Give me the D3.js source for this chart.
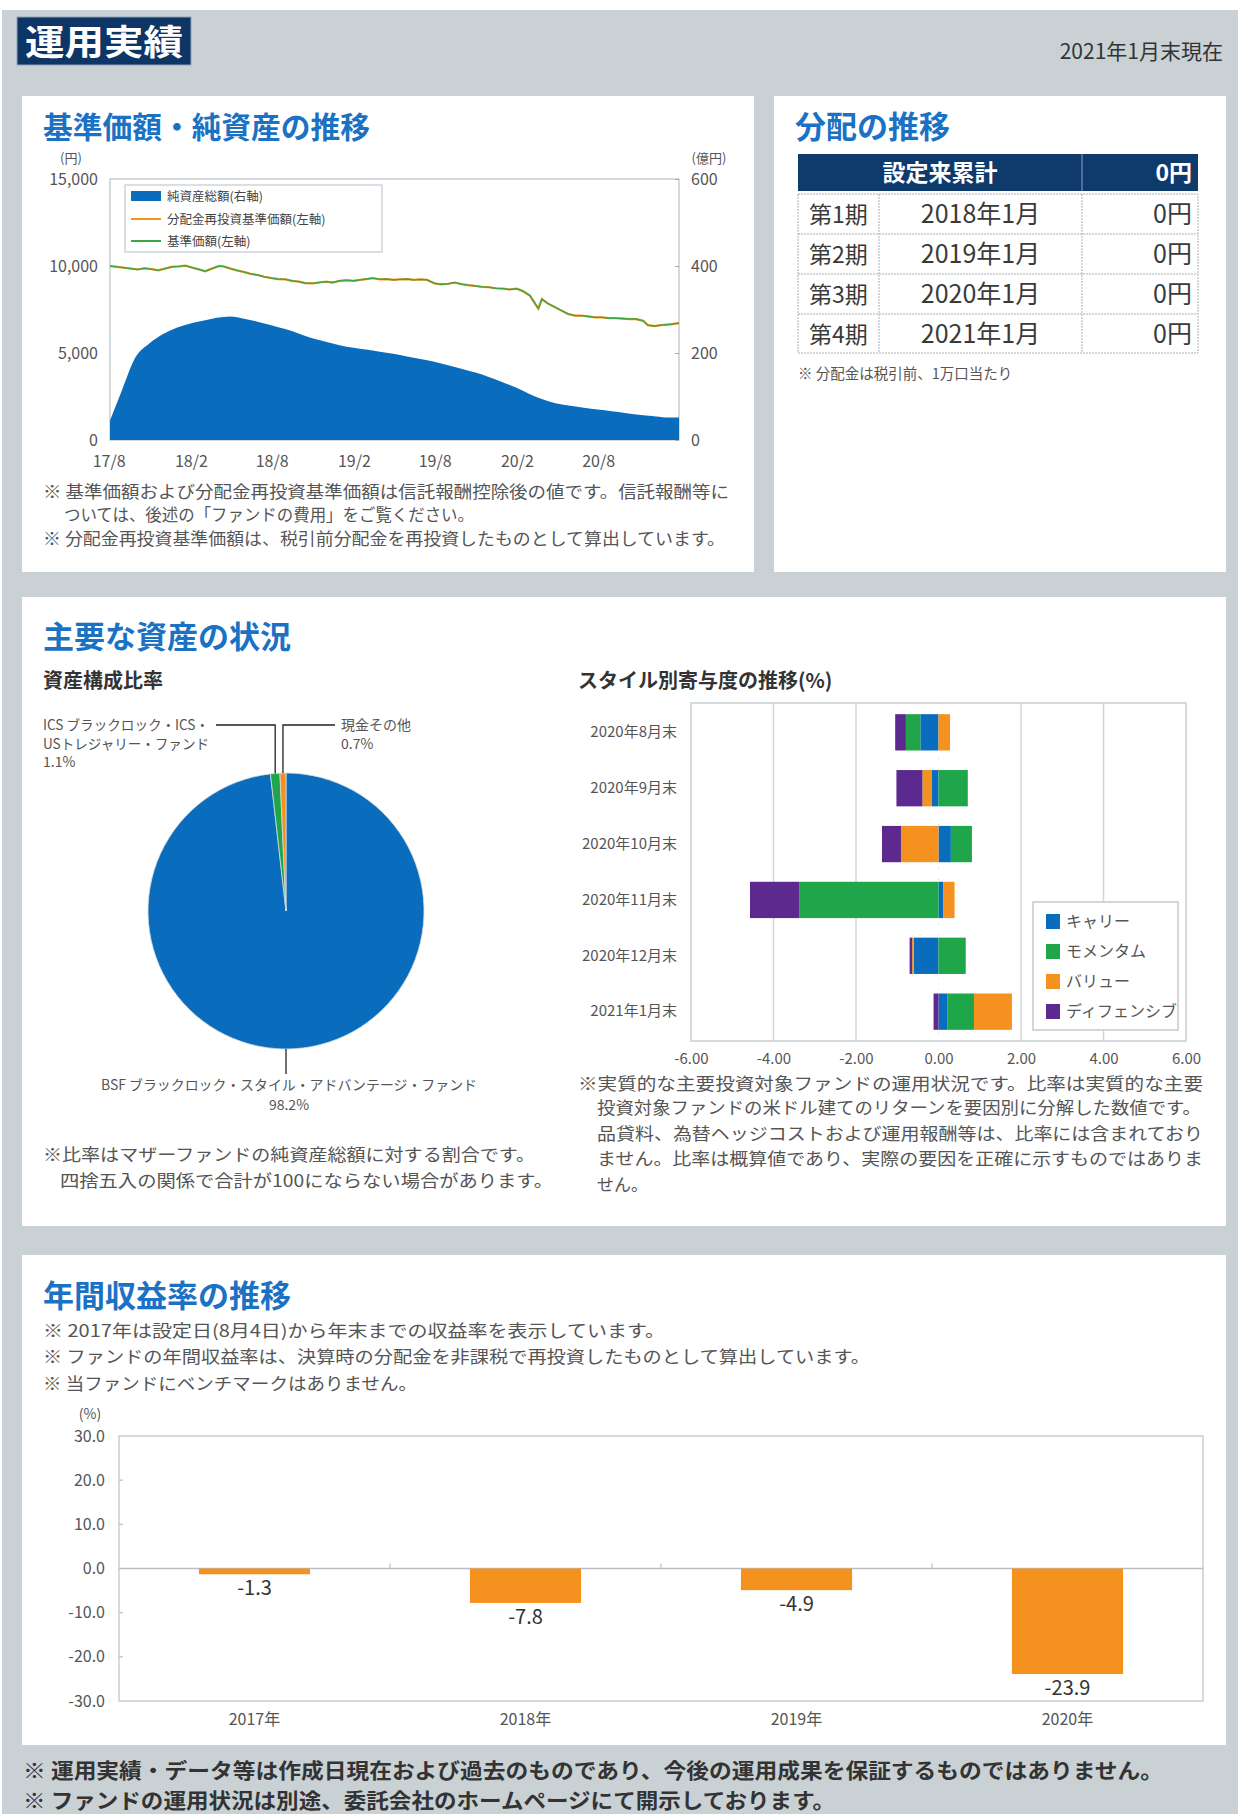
<!DOCTYPE html>
<html>
<head>
<meta charset="utf-8">
<script src="https://cdn.jsdelivr.net/npm/d3@7"></script>
<style>
  body { margin: 0; background: #fff; }
  text { font-family: "Noto Sans CJK JP", "Noto Sans", sans-serif; }
</style>
</head>
<body>
<svg id="chart"></svg>
<script>
// ---- データ ----
// 純資産総額（億円, 月末）
const navDates = ['2017-08-04','2017-08-31','2017-09-30','2017-10-31','2017-11-30','2017-12-31',
  '2018-01-31','2018-02-28','2018-03-31','2018-04-30','2018-05-31','2018-06-30','2018-07-31',
  '2018-08-31','2018-09-30','2018-10-31','2018-11-30','2018-12-31','2019-01-31','2019-02-28',
  '2019-03-31','2019-04-30','2019-05-31','2019-06-30','2019-07-31','2019-08-31','2019-09-30',
  '2019-10-31','2019-11-30','2019-12-31','2020-01-31','2020-02-29','2020-03-31','2020-04-30',
  '2020-05-31','2020-06-30','2020-07-31','2020-08-31','2020-09-30','2020-10-31','2020-11-30',
  '2020-12-31','2021-01-29'];
const netAssets = [45,115,190,222,243,258,268,274,281,284,279,272,264,255,245,234,226,218,212,208,
  203,198,192,186,180,172,164,155,145,133,120,106,93,84,79,74,70,66,62,58,55,52,52];

// 基準価額（円）
const priceDates = ['2017-08-04','2017-08-20','2017-09-05','2017-09-20','2017-10-05','2017-10-20',
  '2017-11-05','2017-11-20','2017-12-05','2017-12-20','2018-01-05','2018-01-20','2018-02-05',
  '2018-02-20','2018-03-05','2018-03-20','2018-04-05','2018-04-15','2018-05-01','2018-05-15',
  '2018-06-01','2018-06-15','2018-07-01','2018-07-15','2018-08-01','2018-08-15','2018-09-01',
  '2018-09-15','2018-10-01','2018-10-15','2018-11-01','2018-11-15','2018-12-01','2018-12-15',
  '2019-01-01','2019-01-15','2019-02-01','2019-02-15','2019-03-01','2019-03-15','2019-04-01',
  '2019-04-15','2019-05-01','2019-05-15','2019-06-01','2019-06-15','2019-07-01','2019-07-15',
  '2019-08-01','2019-08-15','2019-09-01','2019-09-15','2019-10-01','2019-10-15','2019-11-01',
  '2019-11-15','2019-12-01','2019-12-15','2020-01-01','2020-01-15','2020-02-01','2020-02-15',
  '2020-03-01','2020-03-10','2020-03-20','2020-03-28','2020-04-10','2020-04-25','2020-05-10',
  '2020-05-25','2020-06-10','2020-06-25','2020-07-10','2020-07-25','2020-08-10','2020-08-25',
  '2020-09-10','2020-09-25','2020-10-10','2020-10-25','2020-11-10','2020-11-20','2020-12-05',
  '2020-12-20','2021-01-10','2021-01-29'];
const basePrice = [10000,9950,9900,9850,9800,9870,9820,9750,9850,9950,9980,10020,9900,
  9800,9700,9850,10000,9980,9850,9750,9650,9550,9480,9380,9300,9250,9230,
  9150,9100,9020,9000,9050,9100,9050,9150,9180,9150,9200,9250,9300,9230,
  9250,9200,9230,9250,9200,9230,9200,9000,8950,8980,9050,8950,8900,8850,
  8800,8780,8720,8700,8650,8700,8550,8300,7950,7550,8100,7850,7650,7450,
  7250,7150,7150,7100,7050,7050,7000,7000,6980,6950,6950,6850,6600,6550,
  6600,6650,6720];
// 分配実績がないため分配金再投資基準価額は基準価額と同じ
const reinvestPrice = basePrice;

const xTickDates = ['2017-08-01','2018-02-01','2018-08-01','2019-02-01','2019-08-01','2020-02-01','2020-08-01'];
const xTickLabels = ['17/8','18/2','18/8','19/2','19/8','20/2','20/8'];
const leftTicks = [0, 5000, 10000, 15000];
const rightTicks = [0, 200, 400, 600];

// 分配の推移
const distPeriods = ['第1期','第2期','第3期','第4期'];
const distMonths = ['2018年1月','2019年1月','2020年1月','2021年1月'];
const distAmounts = ['0円','0円','0円','0円'];
const distTotal = '0円';

// 資産構成比率
const pieNames = ['BSF ブラックロック・スタイル・アドバンテージ・ファンド','ICS ブラックロック・ICS・USトレジャリー・ファンド','現金その他'];
const pieValues = [98.2, 1.1, 0.7];

// スタイル別寄与度（%）
const styleMonths = ['2020年8月末','2020年9月末','2020年10月末','2020年11月末','2020年12月末','2021年1月末'];
const styleNames = ['キャリー','モメンタム','バリュー','ディフェンシブ'];
const carry     = [-0.44, -0.17,  0.30,  0.12, -0.60, 0.22];
const momentum  = [-0.35,  0.71,  0.51, -3.37,  0.66, 0.64];
const valueF    = [ 0.28, -0.22, -0.91,  0.27, -0.04, 0.92];
const defensive = [-0.26, -0.63, -0.46, -1.20, -0.06, -0.12];
const styleTicks = [-6, -4, -2, 0, 2, 4, 6];

// 年間収益率
const years = ['2017年','2018年','2019年','2020年'];
const annualReturns = [-1.3, -7.8, -4.9, -23.9];
const returnTicks = [-30, -20, -10, 0, 10, 20, 30];

// ---- 描画 ----
const W = 1238, H = 1814;
const BLUE = '#0a6cbd', GREEN = '#1fa54a', ORANGE = '#f5921f', PURPLE = '#5c2a8e';
const TITLE = '#1b72c4', TXT = '#444', NOTE = '#555', FRAME = '#c6cfd3';
const parse = d3.timeParse('%Y-%m-%d');

const svg = d3.select('#chart').attr('width', W).attr('height', H);

svg.append('rect').attr('width', W).attr('height', H).attr('fill', '#c9d1d5');
svg.append('rect').attr('width', W).attr('height', 10).attr('fill', '#fff');
svg.append('rect').attr('width', 2).attr('height', H).attr('fill', '#fff');

function txt(x, y, s, size, opt) {
  opt = opt || {};
  const t = svg.append('text').attr('x', x).attr('y', y).text(s)
    .attr('font-size', size)
    .attr('fill', opt.fill || TXT)
    .attr('text-anchor', opt.anchor || 'start')
    .attr('font-weight', opt.weight || 400);
  if (opt.len) t.attr('textLength', opt.len).attr('lengthAdjust', 'spacingAndGlyphs');
  return t;
}

// 見出し
svg.append('rect').attr('x', 17).attr('y', 17).attr('width', 174).attr('height', 48)
  .attr('fill', '#0d3566').attr('stroke', '#8fa3b8').attr('stroke-width', 1);
txt(104, 55, '運用実績', 35, {fill: '#fff', anchor: 'middle', weight: 700, len: 158});
txt(1223, 59, '2021年1月末現在', 21, {anchor: 'end', fill: '#333'});

// パネル
[[22, 96, 732, 476], [774, 96, 452, 476], [22, 597, 1204, 629], [22, 1255, 1204, 490]]
  .forEach(p => svg.append('rect').attr('x', p[0]).attr('y', p[1]).attr('width', p[2]).attr('height', p[3]).attr('fill', '#fff'));

// ===== 基準価額・純資産の推移 =====
txt(43, 138, '基準価額・純資産の推移', 30, {fill: TITLE, weight: 700, len: 327});

const px0 = 110, px1 = 679, py0 = 179, py1 = 440;
const x1 = d3.scaleTime().domain([parse('2017-08-04'), parse('2021-01-29')]).range([px0, px1]);
const yL = d3.scaleLinear().domain([0, 15000]).range([py1, py0]);
const yR = d3.scaleLinear().domain([0, 600]).range([py1, py0]);

const navData = navDates.map((d, i) => ({date: parse(d), v: netAssets[i]}));
const priceData = priceDates.map((d, i) => ({date: parse(d), v: basePrice[i], r: reinvestPrice[i]}));

svg.append('rect').attr('x', px0).attr('y', py0).attr('width', px1 - px0).attr('height', py1 - py0)
  .attr('fill', 'none').attr('stroke', FRAME).attr('stroke-width', 1.5);

svg.append('path').datum(navData)
  .attr('fill', BLUE)
  .attr('d', d3.area().x(d => x1(d.date)).y0(yR(0)).y1(d => yR(d.v)).curve(d3.curveMonotoneX));

svg.append('path').datum(priceData)
  .attr('fill', 'none').attr('stroke', ORANGE).attr('stroke-width', 2.2)
  .attr('d', d3.line().x(d => x1(d.date)).y(d => yL(d.r)));
svg.append('path').datum(priceData)
  .attr('fill', 'none').attr('stroke', '#3aa845').attr('stroke-width', 1.4)
  .attr('d', d3.line().x(d => x1(d.date)).y(d => yL(d.v)));

const axL = svg.append('g').attr('transform', `translate(${px0},0)`)
  .call(d3.axisLeft(yL).tickValues(leftTicks).tickFormat(d3.format(',')).tickSize(0).tickPadding(12));
const axR = svg.append('g').attr('transform', `translate(${px1},0)`)
  .call(d3.axisRight(yR).tickValues(rightTicks).tickSize(-4).tickPadding(12));
const axB = svg.append('g').attr('transform', `translate(0,${py1})`)
  .call(d3.axisBottom(x1).tickValues(xTickDates.map(parse)).tickFormat((d, i) => xTickLabels[i]).tickSize(0).tickPadding(16));
[axL, axR, axB].forEach(a => {
  a.select('.domain').remove();
  a.selectAll('line').attr('stroke', '#aaa');
  a.selectAll('text').attr('font-size', 16).attr('fill', '#555')
    .style('font-family', '"Noto Sans CJK JP", sans-serif');
});
txt(71, 163, '(円)', 13, {anchor: 'middle', fill: '#555'});
txt(709, 163, '(億円)', 13, {anchor: 'middle', fill: '#555'});

// 凡例
svg.append('rect').attr('x', 125).attr('y', 185).attr('width', 257).attr('height', 67)
  .attr('fill', '#fff').attr('stroke', '#c3c9d0').attr('stroke-width', 1.2);
svg.append('rect').attr('x', 131).attr('y', 191).attr('width', 30).attr('height', 10).attr('fill', BLUE);
svg.append('line').attr('x1', 131).attr('x2', 161).attr('y1', 219).attr('y2', 219).attr('stroke', ORANGE).attr('stroke-width', 2);
svg.append('line').attr('x1', 131).attr('x2', 161).attr('y1', 241).attr('y2', 241).attr('stroke', '#3aa845').attr('stroke-width', 2);
txt(167, 201, '純資産総額(右軸)', 12.5, {fill: '#444'});
txt(167, 224, '分配金再投資基準価額(左軸)', 12.5, {fill: '#444'});
txt(167, 246, '基準価額(左軸)', 12.5, {fill: '#444'});

txt(43, 498, '※ 基準価額および分配金再投資基準価額は信託報酬控除後の値です。信託報酬等に', 16.5, {fill: NOTE, len: 686});
txt(64, 521, 'ついては、後述の「ファンドの費用」をご覧ください。', 16.5, {fill: NOTE, len: 410});
txt(43, 545, '※ 分配金再投資基準価額は、税引前分配金を再投資したものとして算出しています。', 16.5, {fill: NOTE, len: 682});

// ===== 分配の推移 =====
txt(795, 138, '分配の推移', 31, {fill: TITLE, weight: 700});
const tX = [798, 879, 1082, 1198];
const hdrY0 = 154, hdrY1 = 191;
const rowY = [194, 234, 274, 314, 353];
svg.append('rect').attr('x', tX[0]).attr('y', hdrY0).attr('width', tX[3] - tX[0]).attr('height', hdrY1 - hdrY0).attr('fill', '#0f3a6c');
svg.append('line').attr('x1', tX[2]).attr('x2', tX[2]).attr('y1', hdrY0).attr('y2', hdrY1).attr('stroke', '#8da0b8');
txt((tX[0] + tX[2]) / 2, 181, '設定来累計', 23, {fill: '#fff', anchor: 'middle', weight: 700});
txt(tX[3] - 6, 181, distTotal, 23, {fill: '#fff', anchor: 'end', weight: 700});
const tb = svg.append('g').attr('stroke', '#a9b1b8').attr('stroke-dasharray', '2,1').attr('fill', 'none');
tb.append('rect').attr('x', tX[0]).attr('y', rowY[0]).attr('width', tX[3] - tX[0]).attr('height', rowY[4] - rowY[0]);
rowY.slice(1, 4).forEach(y => tb.append('line').attr('x1', tX[0]).attr('x2', tX[3]).attr('y1', y).attr('y2', y));
[tX[1], tX[2]].forEach(x => tb.append('line').attr('x1', x).attr('x2', x).attr('y1', rowY[0]).attr('y2', rowY[4]));
distPeriods.forEach((p, i) => {
  const cy = (rowY[i] + rowY[i + 1]) / 2 + 9;
  txt((tX[0] + tX[1]) / 2, cy, p, 23, {anchor: 'middle', fill: '#3a3a3a'});
  txt((tX[1] + tX[2]) / 2, cy, distMonths[i], 25, {anchor: 'middle', fill: '#3a3a3a'});
  txt(tX[3] - 6, cy, distAmounts[i], 25, {anchor: 'end', fill: '#3a3a3a'});
});
txt(798, 379, '※ 分配金は税引前、1万口当たり', 14.5, {fill: NOTE});

// ===== 主要な資産の状況 =====
txt(43, 648, '主要な資産の状況', 31, {fill: TITLE, weight: 700});
txt(43, 688, '資産構成比率', 20, {fill: '#333', weight: 700});

const cx = 286, cy = 911, R = 138;
const pieColors = [BLUE, GREEN, ORANGE];
const arcs = d3.pie().sort(null).value(d => d)(pieValues);
const gp = svg.append('g').attr('transform', `translate(${cx},${cy})`);
gp.selectAll('path').data(arcs).join('path')
  .attr('d', d3.arc().innerRadius(0).outerRadius(R))
  .attr('fill', (d, i) => pieColors[i])
  .attr('stroke', '#d5dade').attr('stroke-width', 0.8);

function leader(a, endX) {
  const m = (a.startAngle + a.endAngle) / 2;
  const lx = cx + R * Math.sin(m), ly = cy - R * Math.cos(m);
  svg.append('path').attr('d', `M${lx},${ly}V725H${endX}`)
    .attr('fill', 'none').attr('stroke', '#222').attr('stroke-width', 1.3);
}
leader(arcs[1], 216);
leader(arcs[2], 335);
svg.append('line').attr('x1', cx).attr('x2', cx).attr('y1', cy + R).attr('y2', 1074)
  .attr('stroke', '#222').attr('stroke-width', 1.3);

txt(43, 730, 'ICS ブラックロック・ICS・', 14, {fill: NOTE, len: 166});
txt(43, 749, 'USトレジャリー・ファンド', 14, {fill: NOTE, len: 166});
txt(43, 767, pieValues[1].toFixed(1) + '%', 14, {fill: NOTE});
txt(341, 730, pieNames[2], 14, {fill: NOTE});
txt(341, 749, pieValues[2].toFixed(1) + '%', 14, {fill: NOTE});
txt(289, 1090, pieNames[0], 14, {fill: NOTE, anchor: 'middle', len: 376});
txt(289, 1110, pieValues[0].toFixed(1) + '%', 14, {fill: NOTE, anchor: 'middle'});

txt(43, 1161, '※比率はマザーファンドの純資産総額に対する割合です。', 17, {fill: NOTE, len: 492});
txt(60, 1187, '四捨五入の関係で合計が100にならない場合があります。', 17, {fill: NOTE, len: 493});

// スタイル別寄与度
txt(578, 688, 'スタイル別寄与度の推移(%)', 20, {fill: '#333', weight: 700});
const bx0 = 691, bx1 = 1186, by0 = 703, by1 = 1041;
const xs = d3.scaleLinear().domain([-6, 6]).range([bx0, bx1]);
const ys = d3.scaleBand().domain(styleMonths).range([by0, by1]).paddingInner(0.35).paddingOuter(0.2);

styleTicks.filter(t => t !== -6 && t !== 6 && t !== 0).forEach(t =>
  svg.append('line').attr('x1', xs(t)).attr('x2', xs(t)).attr('y1', by0).attr('y2', by1)
    .attr('stroke', '#cfd6da').attr('stroke-width', 1.5));
svg.append('line').attr('x1', xs(0)).attr('x2', xs(0)).attr('y1', by0).attr('y2', by1)
  .attr('stroke', '#cfd6da').attr('stroke-dasharray', '1,10');
svg.append('rect').attr('x', bx0).attr('y', by0).attr('width', bx1 - bx0).attr('height', by1 - by0)
  .attr('fill', 'none').attr('stroke', FRAME).attr('stroke-width', 1.5);

const styleRows = styleMonths.map((m, i) => ({month: m, carry: carry[i], momentum: momentum[i], value: valueF[i], defensive: defensive[i]}));
const styleKeys = ['carry', 'momentum', 'value', 'defensive'];
const styleColors = [BLUE, GREEN, ORANGE, PURPLE];
const series = d3.stack().keys(styleKeys).offset(d3.stackOffsetDiverging)(styleRows);
svg.append('g').selectAll('g').data(series).join('g')
  .attr('fill', (d, i) => styleColors[i])
  .selectAll('rect').data(d => d).join('rect')
  .attr('x', d => xs(Math.min(d[0], d[1])))
  .attr('width', d => Math.abs(xs(d[1]) - xs(d[0])))
  .attr('y', d => ys(d.data.month))
  .attr('height', ys.bandwidth());

const axS = svg.append('g').attr('transform', `translate(0,${by1})`)
  .call(d3.axisBottom(xs).tickValues(styleTicks).tickFormat(d3.format('.2f')).tickSize(0).tickPadding(12));
const axM = svg.append('g').attr('transform', `translate(${bx0},0)`)
  .call(d3.axisLeft(ys).tickSize(0).tickPadding(14));
[axS, axM].forEach(a => {
  a.select('.domain').remove();
  a.selectAll('text').attr('font-size', 15).attr('fill', '#555')
    .style('font-family', '"Noto Sans CJK JP", sans-serif');
});
axS.selectAll('text').text(d => d3.format('.2f')(d).replace('−', '-'));

svg.append('rect').attr('x', 1033).attr('y', 902).attr('width', 145).attr('height', 128)
  .attr('fill', '#fff').attr('stroke', '#c3c9d0').attr('stroke-width', 1.5);
styleNames.forEach((n, i) => {
  const ly = 921 + i * 30;
  svg.append('rect').attr('x', 1046).attr('y', ly - 7).attr('width', 14).attr('height', 15).attr('fill', styleColors[i]);
  txt(1066, ly + 6, n, 16, {fill: '#555'});
});

txt(578, 1090, '※実質的な主要投資対象ファンドの運用状況です。比率は実質的な主要', 17, {fill: NOTE, len: 625});
txt(597, 1114, '投資対象ファンドの米ドル建てのリターンを要因別に分解した数値です。', 17, {fill: NOTE, len: 604});
txt(597, 1140, '品貸料、為替ヘッジコストおよび運用報酬等は、比率には含まれており', 17, {fill: NOTE, len: 606});
txt(597, 1165, 'ません。比率は概算値であり、実際の要因を正確に示すものではありま', 17, {fill: NOTE, len: 606});
txt(597, 1191, 'せん。', 17, {fill: NOTE});

// ===== 年間収益率の推移 =====
txt(43, 1307, '年間収益率の推移', 31, {fill: TITLE, weight: 700});
txt(43, 1337, '※ 2017年は設定日(8月4日)から年末までの収益率を表示しています。', 17, {fill: NOTE, len: 622});
txt(43, 1363, '※ ファンドの年間収益率は、決算時の分配金を非課税で再投資したものとして算出しています。', 17, {fill: NOTE, len: 827});
txt(43, 1390, '※ 当ファンドにベンチマークはありません。', 17, {fill: NOTE, len: 374});
txt(90, 1419, '(%)', 14, {fill: '#555', anchor: 'middle'});

const rx0 = 119, rx1 = 1203, ry0 = 1436, ry1 = 1701;
const xr = d3.scaleBand().domain(years).range([rx0, rx1]).paddingInner(0.59).paddingOuter(0.295);
const yr = d3.scaleLinear().domain([-30, 30]).range([ry1, ry0]);

svg.append('rect').attr('x', rx0).attr('y', ry0).attr('width', rx1 - rx0).attr('height', ry1 - ry0)
  .attr('fill', 'none').attr('stroke', FRAME).attr('stroke-width', 1.5);
svg.append('line').attr('x1', rx0).attr('x2', rx1).attr('y1', yr(0)).attr('y2', yr(0))
  .attr('stroke', '#b7bfc4').attr('stroke-width', 1.5);
years.slice(1).forEach(y => {
  const bx = xr(y) - xr.step() * xr.paddingInner() / 2;
  svg.append('line').attr('x1', bx).attr('x2', bx).attr('y1', yr(0)).attr('y2', yr(0) - 5)
    .attr('stroke', '#b7bfc4').attr('stroke-width', 1.2);
});
returnTicks.filter(t => t !== 0 && Math.abs(t) !== 30).forEach(t =>
  svg.append('line').attr('x1', rx0).attr('x2', rx0 + 4).attr('y1', yr(t)).attr('y2', yr(t))
    .attr('stroke', '#b7bfc4').attr('stroke-width', 1.2));

svg.append('g').selectAll('rect').data(annualReturns).join('rect')
  .attr('x', (d, i) => xr(years[i]))
  .attr('width', xr.bandwidth())
  .attr('y', d => yr(Math.max(0, d)))
  .attr('height', d => Math.abs(yr(d) - yr(0)))
  .attr('fill', ORANGE);
svg.append('g').selectAll('text').data(annualReturns).join('text')
  .attr('x', (d, i) => xr(years[i]) + xr.bandwidth() / 2)
  .attr('y', d => yr(d) + 21)
  .attr('text-anchor', 'middle').attr('font-size', 20).attr('fill', '#333')
  .text(d => d.toFixed(1));

const axY = svg.append('g').attr('transform', `translate(${rx0},0)`)
  .call(d3.axisLeft(yr).tickValues(returnTicks).tickFormat(d => d3.format('.1f')(d).replace('−', '-')).tickSize(0).tickPadding(14));
const axX = svg.append('g').attr('transform', `translate(0,${ry1})`)
  .call(d3.axisBottom(xr).tickSize(0).tickPadding(13));
[axY, axX].forEach(a => {
  a.select('.domain').remove();
  a.selectAll('text').attr('font-size', 16).attr('fill', '#555')
    .style('font-family', '"Noto Sans CJK JP", sans-serif');
});

// フッター
txt(23, 1778, '※ 運用実績・データ等は作成日現在および過去のものであり、今後の運用成果を保証するものではありません。', 21, {fill: '#333', weight: 700, len: 1140});
txt(23, 1808, '※ ファンドの運用状況は別途、委託会社のホームページにて開示しております。', 21, {fill: '#333', weight: 700, len: 812});
</script>
</body>
</html>
